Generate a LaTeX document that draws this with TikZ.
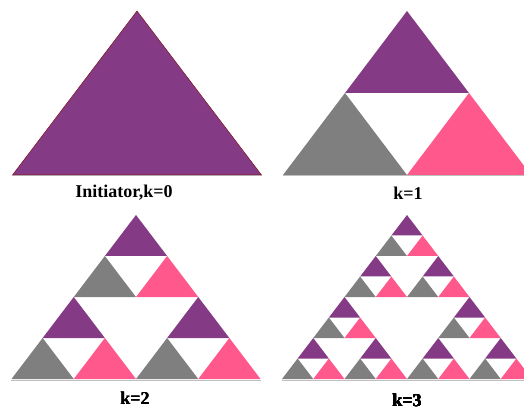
\documentclass[tikz,border=0pt]{standalone}
\usepackage{fontspec}
\setmainfont{Liberation Serif}
\definecolor{purp}{RGB}{133,58,133}
\definecolor{rose}{RGB}{255,88,140}
\definecolor{grey}{RGB}{127,127,127}
\definecolor{edge}{RGB}{130,20,30}
\tikzset{
  caption/.style={font=\fontsize{18}{21}\selectfont\bfseries, inner sep=0pt},
  baseline/.style={draw=black!25, line width=0.8pt}
}
% one trio: apex x, apex y, width, height
\newcommand{\trio}[4]{%
  \fill[purp] (#1,#2) -- ++(-#3/4,#4/2) -- ++(#3/2,0) -- cycle;
  \fill[grey] (#1-#3/4,#2+#4/2) -- ++(-#3/4,#4/2) -- ++(#3/2,0) -- cycle;
  \fill[rose] (#1+#3/4,#2+#4/2) -- ++(-#3/4,#4/2) -- ++(#3/2,0) -- cycle;
}
\begin{document}
\begin{tikzpicture}[x=1pt,y=-1pt]
    \useasboundingbox (0,0) rectangle (524,411);
    \clip (0,0) rectangle (524,411);

    % k=0
    \draw[baseline] (12,175.5) -- (262,175.5);
    \fill[purp, draw=edge, line width=0.5pt] (137,11) -- (12.5,175) -- (261.5,175) -- cycle;
    \node[caption] (lab0) at (124,193) {Initiator,k=0};

    % k=1
    \draw[baseline] (283,175.5) -- (531,175.5);
    \trio{407}{11}{248}{164}
    \node[caption] (lab1) at (408,193) {k=1};

    % k=2
    \draw[baseline] (11,380.5) -- (261,380.5);
    \foreach \a/\b in {0/0, -1/1, 1/1}
        \trio{136+\a*62.25}{215+\b*82}{124.5}{82}
    \node[caption] (lab2) at (135,398) {k=2};

    % k=3
    \draw[baseline] (282,380.5) -- (532,380.5);
    \foreach \a/\b in {0/0, -1/1, 1/1, -2/2, 2/2, -3/3, -1/3, 1/3, 3/3}
        \trio{407+\a*31.25}{215+\b*41}{62.5}{41}
    \node[caption] (lab3) at (407,400) {k=3};
\end{tikzpicture}
\end{document}
